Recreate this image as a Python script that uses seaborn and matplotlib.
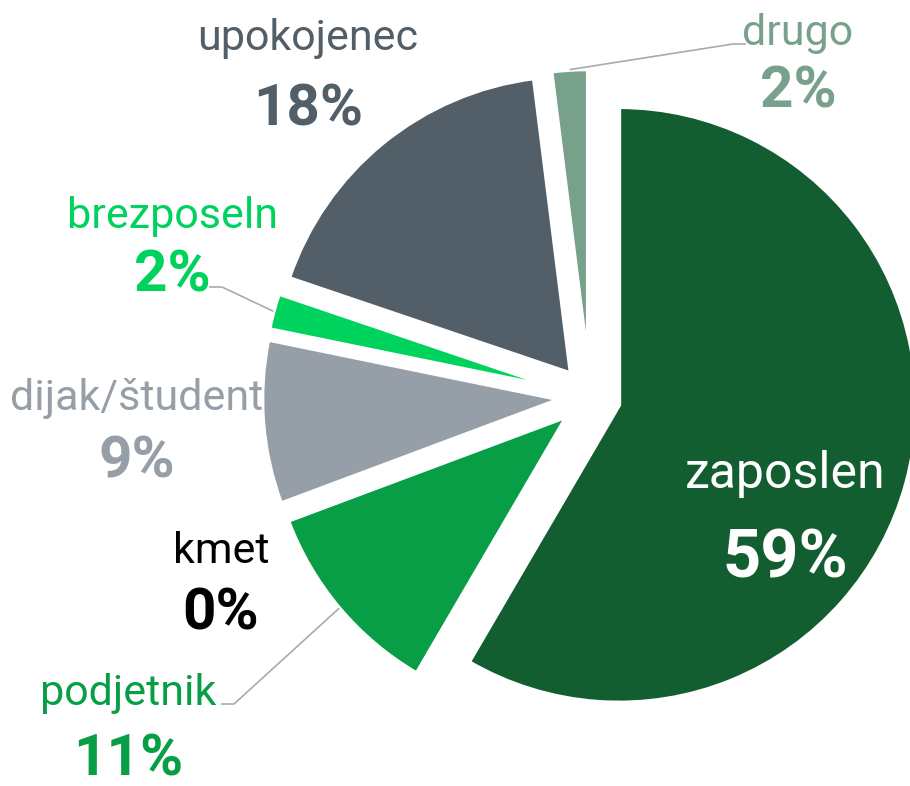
import numpy as np
import matplotlib
matplotlib.use("Agg")
import matplotlib.pyplot as plt
import seaborn as sns

# ── Data ───────────────────────────────────────────────────────────────────────
CATEGORIES = ["zaposlen", "podjetnik", "kmet", "dijak/študent", "brezposeln", "upokojenec", "drugo"]
SHARES     = [59, 11, 0, 9, 2, 18, 2]   # percent, as printed on the chart
COLORS     = ["#135E30", "#079E46", "#000000", "#969EA7", "#00D25E", "#525E68", "#78A18C"]
TEXT_COLORS = ["#FFFFFF", "#079E46", "#000000", "#969EA7", "#00D25E", "#525E68", "#78A18C"]

# ── Layout (pixels, measured from the top-left corner) ─────────────────────────
W, H = 910, 786
CENTER = (590, 397)
RADIUS = 298
EXPLODE = 30
# label centre x, name baseline y, percent baseline y, name size, pct size
LABEL_POS = {
    "zaposlen":      (785, 488, 577, 36, 48),
    "podjetnik":     (128, 705, 775, 31, 42),
    "kmet":          (221, 563, 630, 31, 42),
    "dijak/študent": (137, 410, 478, 31, 42),
    "brezposeln":    (172, 228, 292, 31, 42),
    "upokojenec":    (308, 50, 125, 31, 42),
    "drugo":         (798, 45, 108, 31, 42),
}
# leader lines: elbow point and end point (near the label)
LEADERS = {
    "drugo":      [(733, 44), (746, 44)],
    "brezposeln": [(222, 287), (209, 287)],
    "podjetnik":  [(234, 704), (221, 704)],
}

sns.set_theme(style="white")
plt.rcParams["font.family"] = ["Roboto", "DejaVu Sans"]

fig = plt.figure(figsize=(W / 100, H / 100), dpi=100)
ax = fig.add_axes([0, 0, 1, 1])

wedges, _ = ax.pie(
    SHARES,
    colors=COLORS,
    startangle=90,
    counterclock=False,
    explode=[EXPLODE] * len(SHARES),
    center=(CENTER[0], H - CENTER[1]),
    radius=RADIUS,
    wedgeprops=dict(edgecolor="white", linewidth=3.2),
)
ax.set_xlim(0, W)
ax.set_ylim(0, H)
ax.set_aspect("equal")
ax.axis("off")


def rim_point(w):
    ang = np.deg2rad((w.theta1 + w.theta2) / 2)
    return w.center[0] + w.r * np.cos(ang), w.center[1] + w.r * np.sin(ang)


# labels
for name, share, tc in zip(CATEGORIES, SHARES, TEXT_COLORS):
    x, yn, yp, fs_name, fs_pct = LABEL_POS[name]
    ax.text(x, H - yn, name, ha="center", va="baseline", color=tc, fontsize=fs_name)
    ax.text(x, H - yp, f"{share}%", ha="center", va="baseline", color=tc,
            fontsize=fs_pct, fontweight="bold")

# leader lines
for name, pts in LEADERS.items():
    w = wedges[CATEGORIES.index(name)]
    x0, y0 = rim_point(w)
    xs = [x0] + [p[0] for p in pts]
    ys = [y0] + [H - p[1] for p in pts]
    ax.plot(xs, ys, color="#AAAAAA", lw=1.2, solid_capstyle="butt")

plt.savefig("out.png", dpi=100)
